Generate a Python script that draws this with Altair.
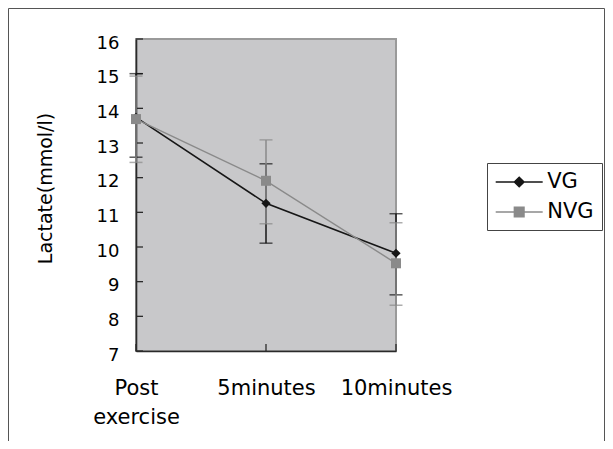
import altair as alt
import pandas as pd

categories = ["Post exercise", "5minutes", "10minutes"]
series_names = ["VG", "NVG"]
vg_mean = [13.74, 11.26, 9.82]
vg_upper = [15.00, 12.40, 10.96]
vg_lower = [12.59, 10.11, 8.62]
nvg_mean = [13.69, 11.91, 9.53]
nvg_upper = [14.93, 13.09, 10.70]
nvg_lower = [12.44, 10.67, 8.32]
y_ticks = [7, 8, 9, 10, 11, 12, 13, 14, 15, 16]

VG_COLOR = "#161616"
NVG_COLOR = "#8a8a8a"
FONT = "DejaVu Sans"

W, H = 260, 312

def frame_for(name, means, uppers, lowers):
    return pd.DataFrame({
        "cat": categories,
        "series": [name] * 3,
        "mean": means,
        "upper": uppers,
        "lower": lowers,
    })

vg_df = frame_for("VG", vg_mean, vg_upper, vg_lower)
nvg_df = frame_for("NVG", nvg_mean, nvg_upper, nvg_lower)

yscale = alt.Scale(domain=[7, 16], nice=False, zero=False)
xscale = alt.Scale(type="point", domain=categories, padding=0)

x_axis = alt.Axis(
    title=None, ticks=False, labelAngle=0, labelFont=FONT, labelFontSize=21,
    labelColor="black", labelPadding=26, labelLineHeight=29,
    labelExpr="datum.value == 'Post exercise' ? ['Post', 'exercise'] : datum.value",
    domainColor="#2a2a2a", domainWidth=1.6, grid=False,
)
y_axis = alt.Axis(
    title="Lactate(mmol/l)", values=y_ticks, ticks=False, grid=False,
    labelFont=FONT, labelFontSize=18, labelColor="black", labelPadding=17,
    labelOffset=4, domainColor="#2a2a2a", domainWidth=1.6,
    titleFont=FONT, titleFontSize=19, titleFontWeight="normal", titleColor="black",
    titleAngle=270, titleX=-91, titleY=149, titleAlign="center", titleBaseline="middle",
)

X = alt.X("cat:N", scale=xscale, axis=x_axis, sort=categories)

def Y(field):
    return alt.Y(f"{field}:Q", scale=yscale, axis=y_axis)

layers = []

# outer figure frame (decoration)
frame = alt.Chart(pd.DataFrame({"k": [0]})).mark_rect(
    fill=None, stroke="#555555", strokeWidth=1
).encode(
    x=alt.value(-127.5), x2=alt.value(468.5), y=alt.value(-30.5), y2=alt.value(430)
)
layers.append(frame)

# inward y ticks
ytick_layer = alt.Chart(pd.DataFrame({"v": y_ticks})).mark_rule(
    color="#2a2a2a", strokeWidth=1.3
).encode(y=Y("v"), x=alt.value(0), x2=alt.value(7))
layers.append(ytick_layer)

# inward x ticks
xtick_layer = alt.Chart(pd.DataFrame({"cat": categories})).mark_rule(
    color="#2a2a2a", strokeWidth=1.3
).encode(x=X, y=alt.value(H), y2=alt.value(H - 7))
layers.append(xtick_layer)

for df, color in [(vg_df, VG_COLOR), (nvg_df, NVG_COLOR)]:
    base = alt.Chart(df)
    layers.append(base.mark_rule(color=color, strokeWidth=1.5).encode(
        x=X, y=Y("lower"), y2="upper:Q"))
    layers.append(base.mark_tick(color=color, size=13, thickness=1.5).encode(
        x=X, y=Y("upper")))
    layers.append(base.mark_tick(color=color, size=13, thickness=1.5).encode(
        x=X, y=Y("lower")))

for df, color, lw in [(vg_df, VG_COLOR, 1.6), (nvg_df, NVG_COLOR, 1.4)]:
    layers.append(alt.Chart(df).mark_line(color=color, strokeWidth=lw).encode(
        x=X, y=Y("mean")))

for df, color, shape, size in [
    (vg_df, VG_COLOR, "diamond", 85),
    (nvg_df, NVG_COLOR, "square", 100),
]:
    layers.append(alt.Chart(df).mark_point(
        shape=shape, filled=True, size=size, color=color, opacity=1, strokeWidth=0
    ).encode(x=X, y=Y("mean")))

# legend-only layer (no marks drawn)
diamond_path = "M-2.35,0H2.35M0,-0.48L0.48,0L0,0.48L-0.48,0Z"
square_path = "M-2.35,0H2.35M-0.48,-0.48H0.48V0.48H-0.48Z"
legend_df = pd.DataFrame({"series": series_names, "cat": categories[:2], "mean": vg_mean[:2]})
leg = alt.Legend(
    title=None, orient="none", legendX=351, legendY=124, padding=8,
    strokeColor="#444444", fillColor="white",
    labelFont=FONT, labelFontSize=21, labelColor="black",
    symbolSize=400, symbolStrokeWidth=1.5, symbolOffset=13.2, labelOffset=17,
    rowPadding=9,
)
legend_layer = alt.Chart(legend_df).transform_filter("false").mark_point(
    filled=False, opacity=1, strokeWidth=1.5
).encode(
    x=X, y=Y("mean"),
    stroke=alt.Stroke("series:N", scale=alt.Scale(domain=series_names, range=[VG_COLOR, NVG_COLOR]), legend=leg),
    fill=alt.Fill("series:N", scale=alt.Scale(domain=series_names, range=[VG_COLOR, NVG_COLOR]), legend=leg),
    shape=alt.Shape("series:N", scale=alt.Scale(domain=series_names, range=[diamond_path, square_path]), legend=leg),
)
layers.append(legend_layer)

chart = alt.layer(*layers).properties(
    width=W, height=H,
    autosize=alt.AutoSizeParams(type="none"),
    padding={"left": 128, "top": 31, "right": 209, "bottom": 90},
    background="white",
).configure_view(
    fill="#c8c8ca", stroke="#9a9a9a", strokeWidth=2
)

chart.save("out.html", embed_options={"renderer": "svg", "actions": False})
